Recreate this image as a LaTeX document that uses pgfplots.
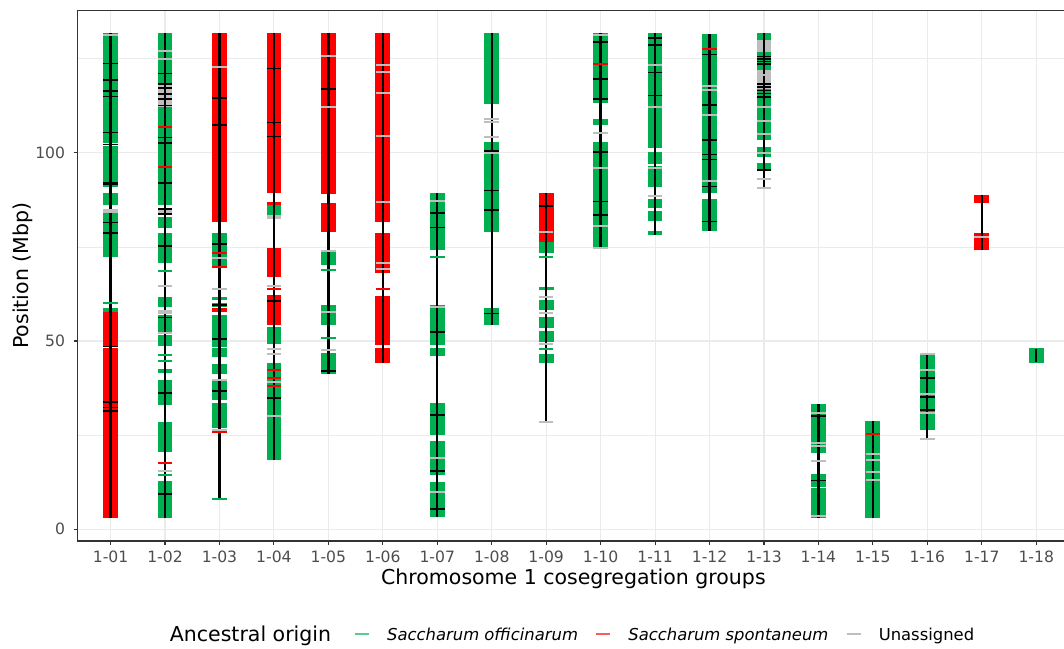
\documentclass[border=0pt]{standalone}
\usepackage{fontspec}
\setmainfont{DejaVu Sans}
\usepackage{pgfplots}
\usepackage{pgfplotstable}
\pgfplotsset{compat=1.18}
\definecolor{sgreen}{RGB}{0,176,80}
\definecolor{sred}{RGB}{255,0,0}
\definecolor{sgray}{RGB}{190,190,190}
\definecolor{sdark}{RGB}{65,65,65}
\definecolor{grid92}{RGB}{235,235,235}
\definecolor{grey20}{RGB}{51,51,51}
\definecolor{grey30}{RGB}{77,77,77}

\pgfplotstableread{
x lo hi
1 116.5 131.7
1 105.4 116.3
1 102.5 105.2
1 91.0 101.8
1 86.1 89.2
1 81.5 84.8
1 72.2 81.3
1 57.8 58.7
2 86.1 131.7
2 79.9 83.0
2 70.6 78.6
2 59.1 61.8
2 52.5 56.9
2 48.8 51.6
2 41.4 42.5
2 33.0 39.6
2 20.6 28.6
2 2.9 12.8
3 69.7 78.6
3 60.9 61.8
3 59.0 60.1
3 48.5 56.9
3 45.8 48.1
3 41.2 43.9
3 34.3 39.5
3 26.8 33.5
4 83.5 86.1
4 49.2 53.8
4 18.4 44.2
5 70.2 74.2
5 54.2 59.6
5 41.2 46.7
7 74.2 89.2
7 48.9 59.6
7 46.0 48.1
7 25.0 33.6
7 14.4 23.5
7 3.2 12.5
8 112.8 131.7
8 79.0 102.9
8 54.2 58.7
9 73.3 76.4
9 63.5 64.4
9 58.2 60.9
9 53.4 56.5
9 49.8 52.7
9 44.2 46.5
10 113.1 131.7
10 107.4 108.9
10 74.6 102.9
11 101.2 131.7
11 97.0 100.3
11 90.8 96.5
11 85.2 87.6
11 81.9 84.6
11 78.1 79.2
12 89.2 131.5
12 79.3 87.6
13 103.4 131.7
13 98.9 101.6
13 95.2 97.3
14 20.3 33.3
14 11.3 14.7
14 2.9 10.9
15 2.9 28.8
16 26.4 46.7
18 44.1 48.1
}\greenblocks

\pgfplotstableread{
x lo hi
1 48.8 57.8
1 2.9 48.2
3 81.7 131.7
3 57.8 58.7
4 89.2 131.7
4 86.1 86.8
4 70.3 74.6
4 67.1 70.1
4 54.2 62.2
5 89.0 131.7
5 79.0 86.7
6 81.7 131.7
6 68.0 78.6
6 48.9 61.9
6 44.2 48.1
9 76.4 89.2
17 86.7 88.8
17 74.2 78.6
}\redblocks

\pgfplotstableread{
x lo hi
2 112.0 118.4
2 83.4 85.3
4 82.3 83.5
13 126.8 129.8
13 117.0 122.0
}\grayblocks

\pgfplotstableread{
x lo hi
1 2.9 131.7
2 2.9 131.7
3 8.0 131.7
4 18.4 131.7
5 41.2 131.7
6 44.2 131.7
7 3.2 89.2
8 54.2 131.7
9 28.6 89.2
10 74.6 131.7
11 78.1 131.7
12 79.3 131.5
13 90.7 131.7
14 2.9 33.3
15 2.9 28.8
16 23.9 46.7
17 74.2 88.8
18 44.5 47.8
}\spans

\pgfplotstableread{
x y
1 123.7
1 119.3
1 114.9
1 92.1
1 91.6
1 78.6
1 31.4
2 121.0
2 118.3
2 117.1
2 115.5
2 114.2
2 112.5
2 104.0
2 102.5
2 92.0
2 85.0
2 83.8
2 75.3
2 56.2
2 36.1
2 9.3
3 114.6
3 107.4
3 75.8
3 59.6
3 50.5
3 36.8
4 108.0
4 104.3
4 60.6
4 34.8
5 116.9
5 42.0
7 52.4
7 30.4
7 15.5
8 100.4
8 84.8
9 85.8
10 129.4
10 119.6
10 114.3
10 100.2
10 87.0
10 83.5
11 130.5
11 128.6
11 115.2
12 112.7
12 103.4
12 98.2
13 125.5
13 124.8
13 124.2
13 123.5
13 118.3
13 117.4
13 116.5
13 115.7
13 114.7
13 95.4
14 30.1
16 40.1
16 35.2
16 31.7
}\darkdash

\pgfplotstableread{
x y
1 131.2
1 84.8
1 84.2
2 127.0
2 125.0
2 64.7
2 58.0
2 57.4
2 52.0
2 15.5
3 122.7
3 72.0
3 63.7
3 39.6
3 26.3
4 64.7
4 47.8
4 46.6
4 39.0
4 30.0
5 125.7
5 112.1
5 73.8
5 57.8
5 47.6
6 123.3
6 121.3
6 115.9
6 104.3
6 87.0
6 70.6
6 69.2
7 87.1
7 58.9
7 19.0
7 10.0
8 108.9
8 108.1
8 104.2
8 99.8
9 78.9
9 61.8
9 57.4
9 49.1
9 28.6
10 131.2
10 105.2
10 96.0
10 80.5
10 74.8
11 123.3
11 112.0
11 96.0
11 88.5
12 117.7
12 116.6
12 110.0
12 92.5
13 120.5
13 112.0
13 108.5
13 105.0
13 99.8
13 92.9
13 90.7
14 30.8
14 22.8
14 22.0
14 18.1
14 3.5
15 20.0
15 18.5
15 15.1
15 13.0
16 46.6
16 42.3
16 36.0
16 31.0
16 23.9
17 77.7
}\graydash

\pgfplotstableread{
x y
2 106.9
2 96.3
2 17.7
3 73.3
3 69.6
3 25.9
4 63.7
4 42.3
4 40.1
4 38.0
6 63.7
10 123.6
12 127.6
15 25.3
}\reddash

\pgfplotstableread{
x y
1 60.2
2 68.7
2 46.3
2 44.7
2 14.4
3 8.0
5 68.9
5 50.9
7 72.2
9 72.4
9 47.8
}\greendash

\pgfplotstableread{
x y
1 116.4
1 105.3
1 102.2
1 81.4
1 48.5
1 33.8
1 32.3
4 122.4
7 84.0
7 80.2
7 5.4
8 89.9
8 57.4
11 121.3
12 126.0
12 99.5
12 91.0
12 81.7
14 13.0
}\whitedash

\pgfplotsset{
  block/.style={forget plot, draw=none, mark=none,
    error bars/.cd, y dir=plus, y explicit, error mark=none,
    error bar style={line width=#1}},
  dashmark/.style={forget plot, only marks, mark=-, mark size=3.65pt,
    mark options={line width=1pt, draw=#1}},
}

\begin{document}
\begin{tikzpicture}
\useasboundingbox (0,0) rectangle (532pt,324pt);
\clip (0,0) rectangle (532pt,324pt);
\begin{axis}[
  at={(38.95pt,53.5pt)}, anchor=south west,
  scale only axis, width=495.5pt, height=265.35pt,
  xmin=0.4, xmax=18.6, ymin=-3.11, ymax=137.81,
  xtick={1,...,18},
  xticklabels={1-01,1-02,1-03,1-04,1-05,1-06,1-07,1-08,1-09,1-10,1-11,1-12,1-13,1-14,1-15,1-16,1-17,1-18},
  ytick={0,50,100}, minor ytick={25,75,125},
  grid=both,
  major grid style={draw=grid92, line width=0.55pt},
  minor grid style={draw=grid92, line width=0.3pt},
  axis line style={draw=grey20, line width=0.55pt},
  tick style={draw=grey20, line width=0.55pt},
  tick align=outside, major tick length=2pt, minor tick length=0pt,
  tick pos=left,
  /pgf/number format/assume math mode=true,
  ticklabel style={font=\fontsize{7.8}{9}\selectfont, text=grey30},
  xticklabel style={yshift=0.5pt},
  yticklabel style={xshift=-0.9pt},
  xlabel={Chromosome 1 cosegregation groups},
  ylabel={Position (Mbp)},
  label style={font=\fontsize{10.25}{12}\selectfont},
  xlabel style={at={(axis description cs:0.5,-0.0716)}, anchor=center},
  ylabel style={at={(axis description cs:-0.0554,0.5)}, anchor=center},
  legend columns=-1,
  legend style={at={(axis description cs:0.5935,-0.179)}, anchor=center,
    draw=none, fill=none, font=\fontsize{8.2}{10}\selectfont,
    column sep=6.6pt},
]
\addlegendimage{legend image code/.code={\draw[sgreen, opacity=0.65, line width=1pt] (0pt,1pt) -- (7pt,1pt);}}
\addlegendentry{\textit{Saccharum officinarum}}
\addlegendimage{legend image code/.code={\draw[sred, opacity=0.65, line width=1pt] (0pt,1pt) -- (7pt,1pt);}}
\addlegendentry{\textit{Saccharum spontaneum}}
\addlegendimage{legend image code/.code={\draw[sgray, line width=1pt] (0pt,1pt) -- (7pt,1pt);}}
\addlegendentry{Unassigned}

\addplot[block=7.4pt, error bar style={draw=sgreen}] table[x=x, y=lo, y error expr=\thisrow{hi}-\thisrow{lo}] {\greenblocks};
\addplot[block=7.4pt, error bar style={draw=sred}] table[x=x, y=lo, y error expr=\thisrow{hi}-\thisrow{lo}] {\redblocks};
\addplot[block=7.4pt, error bar style={draw=sgray}] table[x=x, y=lo, y error expr=\thisrow{hi}-\thisrow{lo}] {\grayblocks};
\addplot[dashmark=white, mark options={line width=0.6pt}] table[x=x, y=y] {\whitedash};
\addplot[dashmark=sgray] table[x=x, y=y] {\graydash};
\addplot[dashmark=sred] table[x=x, y=y] {\reddash};
\addplot[dashmark=sgreen] table[x=x, y=y] {\greendash};
\addplot[dashmark=sdark, mark options={line width=0.85pt}] table[x=x, y=y] {\darkdash};
\addplot[block=1.15pt, error bar style={draw=black}] table[x=x, y=lo, y error expr=\thisrow{hi}-\thisrow{lo}] {\spans};
\end{axis}
\node[font=\fontsize{10.25}{12}\selectfont] at (125.25pt,6pt) {Ancestral origin};
\end{tikzpicture}
\end{document}
